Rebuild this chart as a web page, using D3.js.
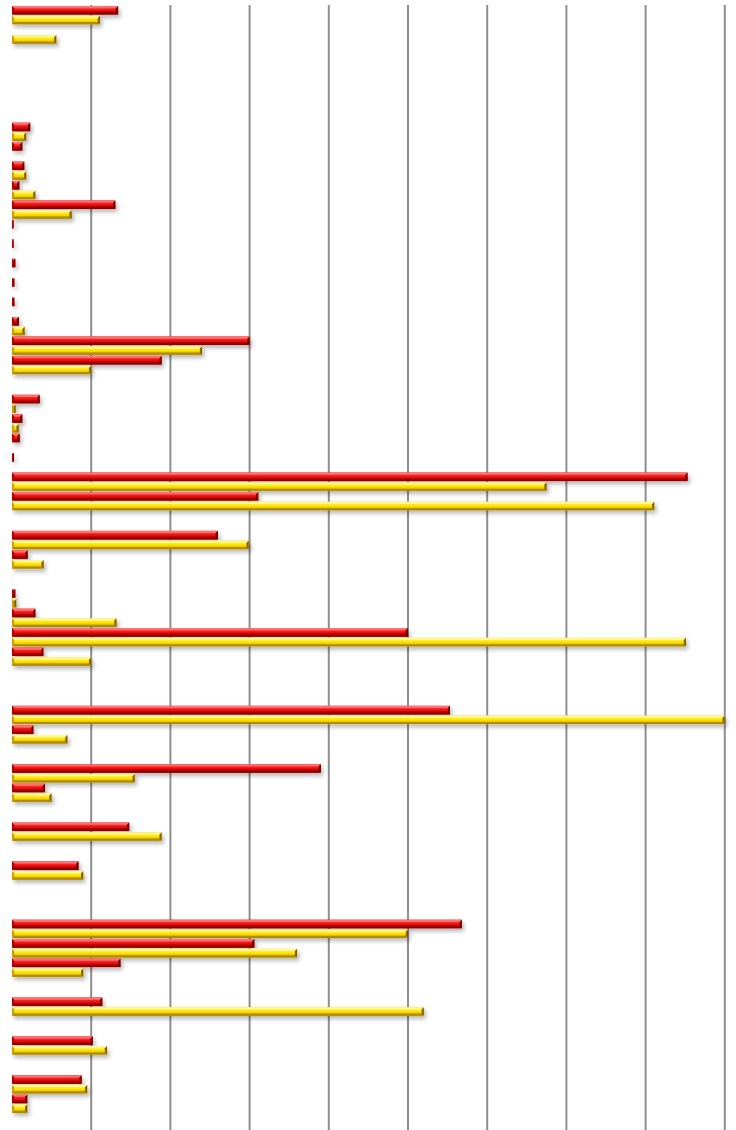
<!DOCTYPE html>
<html>
<head>
<meta charset="utf-8">
<script src="https://cdn.jsdelivr.net/npm/d3@7"></script>
<style>
  html, body { margin: 0; padding: 0; background: #fff; }
  #graphContainer { width: 736px; height: 1130px; }
</style>
</head>
<body>
<div id="graphContainer"></div>
<script>
// categories top -> bottom (no labels shown in the picture)
let categories = d3.range(1, 58).map(i => "Cat " + i);
let seriesNames = ["Series 1", "Series 2"];
// red series
let redValues = [13.4, 0, 0, 0, 0, 0, 2.3, 1.3, 1.55, 0.92,
  13.05, 0.2, 0.2, 0.42, 0.3, 0.3, 0.88, 30, 18.9, 0,
  3.5, 1.3, 0.97, 0.25, 85.3, 31.1, 0, 26.0, 1.98, 0,
  0.42, 2.95, 50.0, 3.96, 0, 0, 55.3, 2.7, 0, 39.0,
  4.17, 0, 14.8, 0, 8.4, 0, 0, 56.8, 30.6, 13.7,
  0, 11.4, 0, 10.2, 0, 8.8, 1.93];
// yellow series
let yellowValues = [11.1, 5.6, 0, 0, 0, 0, 1.8, 0, 1.8, 2.95,
  7.54, 0, 0, 0, 0, 0, 1.6, 24, 10, 0,
  0.47, 0.85, 0, 0, 67.5, 81.1, 0, 29.9, 4.0, 0,
  0.55, 13.2, 85.1, 10, 0, 0, 90, 7.0, 0, 15.5,
  5.0, 0, 18.9, 0, 9.0, 0, 0, 50.0, 36.0, 9.0,
  0, 52.0, 0, 12.0, 0, 9.5, 1.93];
let gridTicks = [10, 20, 30, 40, 50, 60, 70, 80, 90];

function add() {
    let width = 736;
    let height = 1130;
    let svg = d3.select("#graphContainer").append("svg")
        .attr("width", width)
        .attr("height", height);
    return {svg, height, width};
}

function addDefs(svg) {
    let defs = svg.append("defs");
    let grads = {
        red: ["#e81010", "#ff3a3a", "#f01414", "#d00000", "#a80000"],
        yellow: ["#f0d000", "#fff24a", "#ffe600", "#f0cc00", "#c8a000"]
    };
    Object.keys(grads).forEach(k => {
        let g = defs.append("linearGradient")
            .attr("id", "g-" + k)
            .attr("x1", 0).attr("y1", 0).attr("x2", 0).attr("y2", 1);
        let offs = [0, 0.2, 0.45, 0.7, 1];
        grads[k].forEach((c, i) => g.append("stop").attr("offset", offs[i]).attr("stop-color", c));
    });
    let f = defs.append("filter")
        .attr("id", "shadow")
        .attr("filterUnits", "userSpaceOnUse")
        .attr("x", 0).attr("y", 0).attr("width", 736).attr("height", 1130);
    f.append("feDropShadow")
        .attr("dx", 2).attr("dy", 3)
        .attr("stdDeviation", 2)
        .attr("flood-color", "#000")
        .attr("flood-opacity", 0.28);
}

function plotChart() {
    let { svg, height, width } = add();
    addDefs(svg);

    let x = d3.scaleLinear().domain([0, 90]).range([12, 724.8]);
    let y = d3.scaleBand().domain(categories).range([5.4, 1113.5]).padding(0);
    let ySub = d3.scaleBand().domain(seriesNames).range([0, y.bandwidth()])
        .paddingInner(0.12).paddingOuter(0.06);

    // vertical gridlines
    svg.append("g").selectAll("line")
        .data(gridTicks)
        .enter().append("line")
        .attr("x1", d => x(d)).attr("x2", d => x(d))
        .attr("y1", 5).attr("y2", height)
        .attr("stroke", "#8e8e8e")
        .attr("stroke-width", 2);

    let styles = {
        "Series 1": { fill: "url(#g-red)", top: "#ff7070", bottom: "#8c0000", right: "#6e0000", left: "#b40000" },
        "Series 2": { fill: "url(#g-yellow)", top: "#fff79a", bottom: "#b08a00", right: "#806000", left: "#c9a200" }
    };

    let rows = [];
    categories.forEach((c, i) => {
        rows.push({ cat: c, s: seriesNames[0], v: redValues[i] });
        rows.push({ cat: c, s: seriesNames[1], v: yellowValues[i] });
    });

    let bars = svg.append("g").attr("filter", "url(#shadow)")
        .selectAll("g")
        .data(rows.filter(d => d.v > 0))
        .enter().append("g")
        .attr("transform", d => "translate(" + x(0) + "," + (y(d.cat) + ySub(d.s)) + ")");

    let h = ySub.bandwidth();
    bars.each(function (d) {
        let g = d3.select(this);
        let w = x(d.v) - x(0);
        let b = Math.min(2.2, w / 2);
        let st = styles[d.s];
        g.append("rect").attr("width", w).attr("height", h).attr("fill", st.fill);
        g.append("polygon").attr("fill", st.top)
            .attr("points", [[0, 0], [w, 0], [w - b, b], [b, b]].join(" "));
        g.append("polygon").attr("fill", st.bottom)
            .attr("points", [[0, h], [w, h], [w - b, h - b], [b, h - b]].join(" "));
        g.append("polygon").attr("fill", st.left)
            .attr("points", [[0, 0], [b, b], [b, h - b], [0, h]].join(" "));
        g.append("polygon").attr("fill", st.right)
            .attr("points", [[w, 0], [w, h], [w - b, h - b], [w - b, b]].join(" "));
    });
}

plotChart();
</script>
</body>
</html>
